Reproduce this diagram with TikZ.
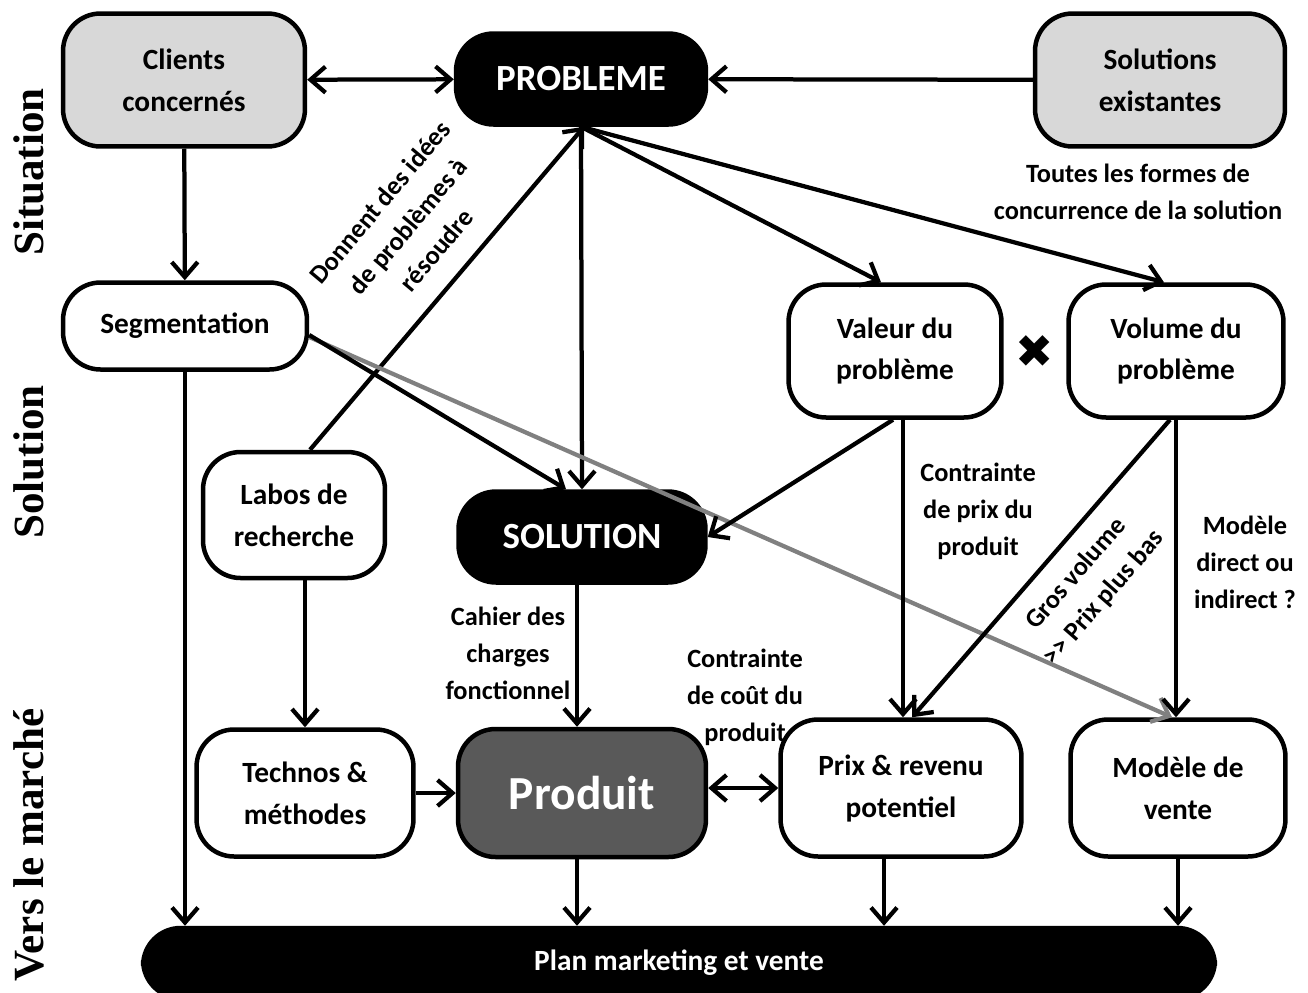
\documentclass[tikz,border=0pt]{standalone}
\usepackage{fontspec}
\setmainfont{Carlito}
\newfontfamily\sidefont{Liberation Serif}
\newfontfamily\symfont{DejaVu Sans}
\usetikzlibrary{arrows.meta,calc}
\definecolor{boxgray}{RGB}{216,216,216}
\definecolor{prodgray}{RGB}{89,89,89}
\definecolor{linegray}{RGB}{128,128,128}
\tikzset{
  box/.style={draw, line width=0.09cm, rounded corners=0.75cm, align=center,
    inner sep=0pt, fill=white, font=\bfseries\fontsize{16.7}{23.9}\selectfont},
  graybox/.style={box, fill=boxgray},
  blackbox/.style={box, fill=black, text=white, font=\bfseries\fontsize{21}{25}\selectfont},
  conn/.style={line width=0.085cm, -{Straight Barb[length=0.3cm,width=0.52cm]}},
  dconn/.style={line width=0.085cm, {Straight Barb[length=0.3cm,width=0.52cm]}-{Straight Barb[length=0.3cm,width=0.52cm]}},
  lbl/.style={align=center, inner sep=0pt, font=\bfseries\fontsize{15}{21}\selectfont},
  side/.style={rotate=90, inner sep=0pt, font=\sidefont\bfseries\fontsize{24.5}{28}\selectfont}
}
\begin{document}
\begin{tikzpicture}[x=0.02cm, y=-0.02cm]
  \useasboundingbox (0,0) rectangle (1308,992);
  % rows
  \node[side] (sit) at (29,172) {Situation};
  \node[side] (sln) at (29,462) {Solution};
  \node[side] (mkt) at (29,845) {Vers le marché};
  % boxes
  \node[graybox, minimum width=4.84cm, minimum height=2.66cm] (cli) at (184,80) {Clients\\concernés};
  \node[blackbox, minimum width=5cm, minimum height=1.82cm] (prob) at (581,79) {PROBLEME};
  \node[graybox, minimum width=5cm, minimum height=2.66cm] (solex) at (1160,80) {Solutions\\existantes};
  \node[box, minimum width=4.88cm, minimum height=1.74cm] (seg) at (185,326) {Segmentation};
  \node[box, minimum width=4.26cm, minimum height=2.66cm] (val) at (895,351) {Valeur du\\problème};
  \node[box, minimum width=4.3cm, minimum height=2.66cm] (vol) at (1176,351) {Volume du\\problème};
  \node[inner sep=0pt, font=\symfont\fontsize{26}{28}\selectfont] (times) at (1035,352) {✖};
  \node[box, minimum width=3.64cm, minimum height=2.52cm] (lab) at (294,515) {Labos de\\recherche};
  \node[blackbox, minimum width=4.94cm, minimum height=1.82cm] (solu) at (582,537) {SOLUTION};
  \node[box, minimum width=4.34cm, minimum height=2.54cm] (tech) at (305,793) {Technos \&\\méthodes};
  \node[box, fill=prodgray, text=white, minimum width=4.96cm, minimum height=2.56cm,
    font=\bfseries\fontsize{27}{30}\selectfont] (prod) at (582,793) {Produit};
  \node[box, minimum width=4.82cm, minimum height=2.74cm] (prix) at (901,788) {Prix \& revenu\\potentiel};
  \node[box, minimum width=4.3cm, minimum height=2.74cm] (mod) at (1178,788) {Modèle de\\vente};
  \node[box, fill=black, text=white, minimum width=21.44cm, minimum height=1.4cm] (plan) at (679,963) {Plan marketing et vente};
  % labels
  \node[lbl, rotate=50] (l1) at (408,226) {Donnent des idées\\de problèmes à\\résoudre};
  \node[lbl] (l2) at (1138,192) {Toutes les formes de\\concurrence de la solution};
  \node[lbl] (l3) at (978,511) {Contrainte\\de prix du\\produit};
  \node[lbl, rotate=49] (l4) at (1090,586) {Gros volume\\>\kern0pt> Prix plus bas};
  \node[lbl] (l5) at (1245,562) {Modèle\\direct ou\\indirect ?};
  \node[lbl] (l6) at (508,653) {Cahier des\\charges\\fonctionnel};
  \node[lbl] (l7) at (745,697) {Contrainte\\de coût du\\produit};
  % connectors
  \draw[dconn] (cli) -- (prob);
  \draw[conn] (solex) -- (prob);
  \draw[conn] (cli) -- (seg);
  \draw[conn] (prob.south) -- (solu.north);
  \draw[conn] (prob.south) -- ($(val.north)+(-14,0)$);
  \draw[conn] (prob.south) -- ($(vol.north)+(-12,0)$);
  \draw[conn] ($(lab.north)+(16,0)$) -- ($(prob.south)+(3,0)$);
  \draw[conn, linegray] ($(seg.east)+(0,11)$) -- ($(mod.north)+(-6,0)$);
  \draw[conn] ($(seg.east)+(0,9)$) -- ($(solu.north)+(-16,0)$);
  \draw[conn] ($(val.south)+(-2,0)$) -- (solu.east);
  \draw[conn] ($(val.south)+(8,0)$) -- ($(prix.north)+(2,0)$);
  \draw[conn] ($(vol.south)+(-6,0)$) -- ($(prix.north)+(11,0)$);
  \draw[conn] (vol.south) -- (vol.south |- mod.north);
  \draw[conn] (seg.south) -- (seg.south |- plan.north);
  \draw[conn] (tech.north |- lab.south) -- (tech.north);
  \draw[conn] ($(solu.south)+(-5,0)$) -- ($(prod.north)+(-5,0)$);
  \draw[conn] (tech) -- (prod);
  \draw[dconn] ($(prod.east)+(0,-5)$) -- ($(prod.east -| prix.west)+(0,-5)$);
  \draw[conn] ($(prod.south)+(-5,0)$) -- ($(prod.south |- plan.north)+(-5,0)$);
  \draw[conn] ($(prix.south)+(-17,0)$) -- ($(prix.south |- plan.north)+(-17,0)$);
  \draw[conn] (mod.south) -- (mod.south |- plan.north);
\end{tikzpicture}
\end{document}
